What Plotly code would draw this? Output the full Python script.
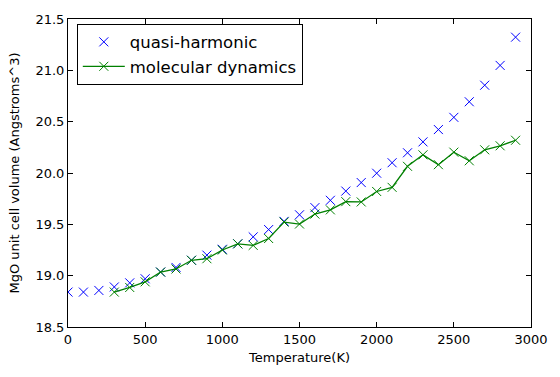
import plotly.graph_objects as go

temps_qh = [0, 100, 200, 300, 400, 500, 600, 700, 800, 900, 1000, 1100, 1200, 1300, 1400,
            1500, 1600, 1700, 1800, 1900, 2000, 2100, 2200, 2300, 2400, 2500, 2600, 2700, 2800, 2900]
vol_qh = [18.84, 18.84, 18.856, 18.89, 18.93, 18.97, 19.035, 19.08, 19.15, 19.2, 19.257, 19.31,
          19.378, 19.449, 19.529, 19.593, 19.663, 19.734, 19.824, 19.907, 19.998, 20.10,
          20.197, 20.303, 20.423, 20.542, 20.694, 20.855, 21.048, 21.323]

temps_md = [300, 400, 500, 600, 700, 800, 900, 1000, 1100, 1200, 1300, 1400, 1500, 1600,
            1700, 1800, 1900, 2000, 2100, 2200, 2300, 2400, 2500, 2600, 2700, 2800, 2900]
vol_md = [18.84, 18.885, 18.94, 19.035, 19.065, 19.15, 19.165, 19.25, 19.31, 19.295, 19.362,
          19.522, 19.503, 19.60, 19.641, 19.721, 19.718, 19.82, 19.86, 20.065, 20.177,
          20.081, 20.203, 20.119, 20.226, 20.265, 20.319]

x_ticks = [0, 500, 1000, 1500, 2000, 2500, 3000]
y_ticks = [18.5, 19.0, 19.5, 20.0, 20.5, 21.0, 21.5]

font = "DejaVu Sans"

fig = go.Figure()
fig.add_trace(go.Scatter(
    x=temps_qh, y=vol_qh, mode="markers", name="quasi-harmonic",
    marker=dict(symbol="x-thin", size=9, line=dict(color="#0000ff", width=1), color="#0000ff"),
))
fig.add_trace(go.Scatter(
    x=temps_md, y=vol_md, mode="lines+markers", name="molecular dynamics",
    line=dict(color="#008000", width=1.3),
    marker=dict(symbol="x-thin", size=9, line=dict(color="#008000", width=1), color="#008000"),
))

axis_common = dict(
    showline=True, linecolor="black", linewidth=1, mirror="allticks",
    ticks="inside", ticklen=5, tickwidth=1, tickcolor="black",
    showgrid=False, zeroline=False,
    tickfont=dict(family=font, size=13, color="black"),
)

fig.update_xaxes(range=[0, 3000], tickvals=x_ticks, ticktext=[str(v) for v in x_ticks],
                 title=dict(text="Temperature(K)", font=dict(family=font, size=13, color="black"), standoff=7),
                 **axis_common)
fig.update_yaxes(range=[18.5, 21.5], tickvals=y_ticks, ticktext=[f"{v:.1f}" for v in y_ticks],
                 title=dict(text="MgO unit cell volume (Angstroms^3)", font=dict(family=font, size=13, color="black"), standoff=12),
                 **axis_common)

fig.update_layout(
    width=560, height=377,
    margin=dict(l=68, r=28, t=15, b=50),
    paper_bgcolor="white", plot_bgcolor="white",
    font=dict(family=font, size=13, color="black"),
    legend=dict(x=0.019, y=0.985, xanchor="left", yanchor="top",
                bordercolor="black", borderwidth=1, bgcolor="white",
                itemwidth=42,
                font=dict(family=font, size=16.5, color="black")),
)

fig.write_html("out.html")
